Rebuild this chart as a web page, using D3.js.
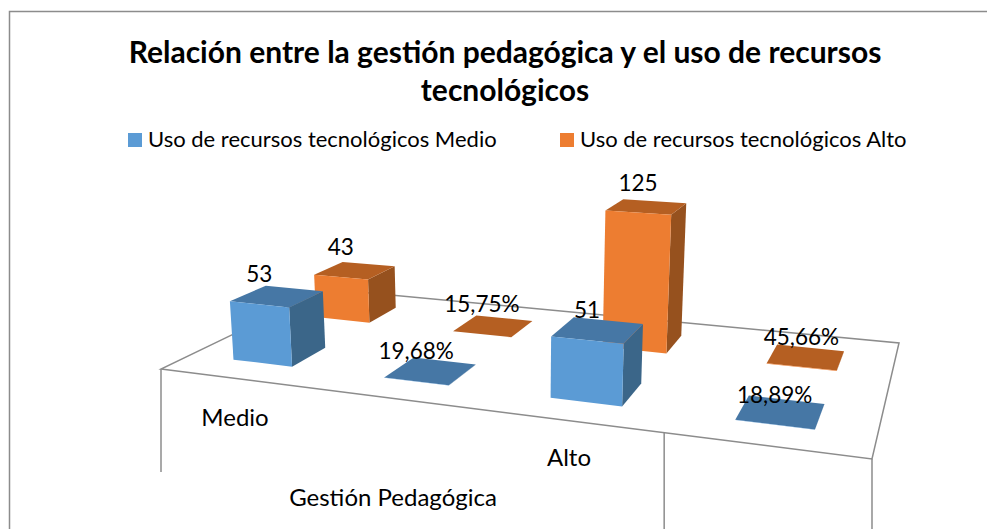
<!DOCTYPE html>
<html lang="es">
<head>
<meta charset="utf-8">
<script src="https://cdn.jsdelivr.net/npm/d3@7"></script>
<style>
html,body{margin:0;padding:0;background:#fff;overflow:hidden}
svg{display:block}
text{font-family:Lato,"Open Sans",sans-serif;fill:#000}
</style>
</head>
<body>
<div id="chart"></div>
<script>
const titleLines = ["Relación entre la gestión pedagógica y el uso de recursos", "tecnológicos"];
const slots = ["s0", "s1", "s2", "s3"];
const categories = ["Medio", "", "Alto", ""];
const seriesNames = ["Uso de recursos tecnológicos Medio", "Uso de recursos tecnológicos Alto"];
const medioValues = [53, 0.1968, 51, 0.1889];
const altoValues = [43, 0.1575, 125, 0.4566];
const axisTitle = "Gestión Pedagógica";
const tickPositions = [0, 0.75, 1];
const tickEnds = [472, 529, 529];

const W = 987, H = 529;
const svg = d3.select("#chart").append("svg").attr("width", W).attr("height", H);

// Camera: floor square (u,v) to screen, z lifts towards a vanishing point below the chart
const cam = {a:542.72, b:248.44, c:161, d:1.42, e:-7.14, f:369, g:-0.19298, h:0.25211,
             qx:-0.106, qy:-1, qw:-0.000207};
function project(u, v, z) {
  const w = cam.g*u + cam.h*v + 1 + z*cam.qw;
  return [(cam.a*u + cam.b*v + cam.c + z*cam.qx)/w, (cam.d*u + cam.e*v + cam.f + z*cam.qy)/w];
}
const uScale = d3.scaleBand().domain(slots).range([0, 1]).paddingInner(0.6).paddingOuter(0.3);
const vScale = d3.scaleBand().domain([0, 1]).range([0, 1]).paddingInner(0.6).paddingOuter(0.3);
const zScale = d3.scaleLinear().domain([0, 125]).range([0, 150]);
const line = d3.line();
const fmt = v => v < 1 ? d3.format(".2f")(v*100).replace(".", ",") + "%" : String(v);

const palette = [
  {front:"#5b9bd5", top:"#4677a5", side:"#3b6689"},
  {front:"#ed7d31", top:"#b55f22", side:"#96511e"}
];

// chart frame
svg.append("path").attr("d", `M9.5,${H}V11.5H${W}`).attr("fill", "none").attr("stroke", "#8c8c8c").attr("stroke-width", 1.5);

// title
svg.selectAll("text.title").data(titleLines).join("text").attr("class", "title")
  .attr("x", 505).attr("y", (d, i) => 63 + i*38)
  .attr("text-anchor", "middle").attr("font-size", 30).attr("font-weight", 700).text(d => d);

// legend
const legendX = [128, 560];
const lg = svg.selectAll("g.lg").data(seriesNames).join("g").attr("class", "lg")
  .attr("transform", (d, i) => `translate(${legendX[i]},133)`);
lg.append("rect").attr("width", 14).attr("height", 14).attr("fill", (d, i) => palette[i].front);
lg.append("text").attr("x", 20).attr("y", 14).attr("font-size", 22).text(d => d);

// floor
const floor = [[0,0],[1,0],[1,1],[0,1]].map(p => project(p[0], p[1], 0));
const floorG = svg.append("g");
floorG.append("path").attr("d", line(floor) + "Z").attr("fill", "none").attr("stroke", "#8c8c8c").attr("stroke-width", 1.5);
floorG.selectAll("line").data(tickPositions).join("line")
  .attr("x1", d => project(d, 0, 0)[0]).attr("x2", d => project(d, 0, 0)[0])
  .attr("y1", d => project(d, 0, 0)[1]).attr("y2", (d, i) => tickEnds[i])
  .attr("stroke", "#8c8c8c").attr("stroke-width", 1.5);

// bars, back row first
const rows = [
  {si:1, values:altoValues},
  {si:0, values:medioValues}
];
rows.forEach(r => {
  const v0 = vScale(r.si), v1 = v0 + vScale.bandwidth();
  const c = palette[r.si];
  const g = svg.append("g");
  slots.forEach((s, i) => {
    const u0 = uScale(s), u1 = u0 + uScale.bandwidth(), z = zScale(r.values[i]);
    const bar = g.append("g");
    bar.append("path").attr("fill", c.side)
      .attr("d", line([project(u1,v0,0), project(u1,v1,0), project(u1,v1,z), project(u1,v0,z)]) + "Z");
    bar.append("path").attr("fill", c.top)
      .attr("d", line([project(u0,v0,z), project(u1,v0,z), project(u1,v1,z), project(u0,v1,z)]) + "Z");
    bar.append("path").attr("fill", c.front)
      .attr("d", line([project(u0,v0,0), project(u1,v0,0), project(u1,v0,z), project(u0,v0,z)]) + "Z");
  });
});

// data labels, on top of all bars
rows.forEach(r => {
  const v0 = vScale(r.si);
  slots.forEach((s, i) => {
    const u = uScale(s) + uScale.bandwidth()/2;
    const p = project(u, v0, zScale(r.values[i]));
    svg.append("text").attr("x", p[0]).attr("y", p[1] - 22)
      .attr("text-anchor", "middle").attr("font-size", 22.5).text(fmt(r.values[i]));
  });
});

// category labels
svg.selectAll("text.cat").data(categories.map((d, i) => ({d, s:slots[i]})).filter(o => o.d)).join("text").attr("class", "cat")
  .attr("x", (o, i) => [235, 569][i]).attr("y", (o, i) => [426, 466][i])
  .attr("text-anchor", "middle").attr("font-size", 24).text(o => o.d);

svg.append("text").attr("x", 393).attr("y", 506).attr("text-anchor", "middle").attr("font-size", 24).text(axisTitle);
</script>
</body>
</html>
